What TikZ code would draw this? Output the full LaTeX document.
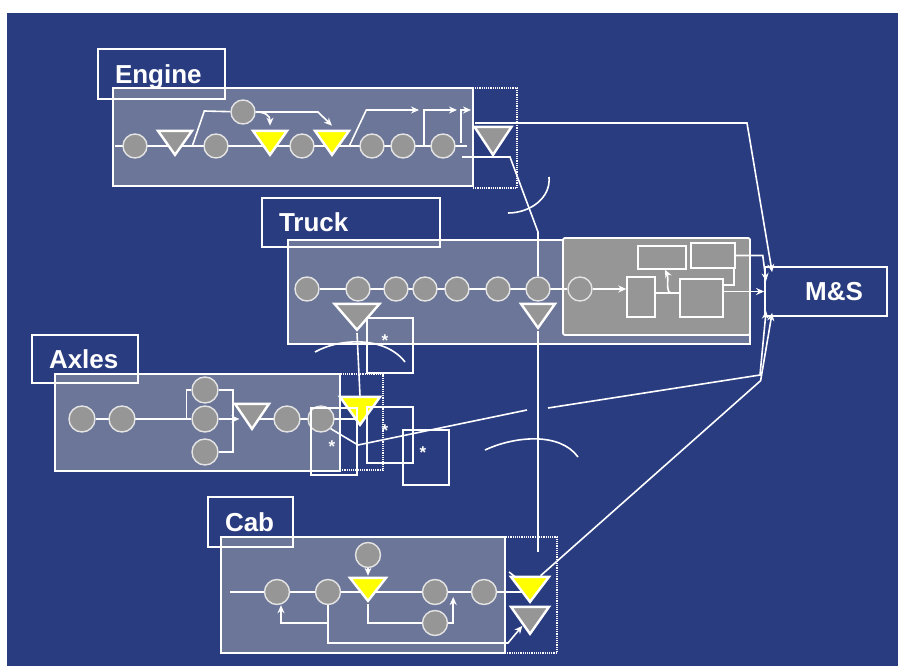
\documentclass[tikz,border=0pt]{standalone}
\usepackage{fontspec}
\setmainfont{Liberation Sans}
\usetikzlibrary{arrows.meta,positioning,shapes.geometric}
\pgfdeclarelayer{bgA}
\pgfdeclarelayer{bgB}
\pgfdeclarelayer{bgC}
\pgfsetlayers{bgC,bgB,bgA,main}
\definecolor{sBlue} {HTML}{293C80}
\definecolor{sPanel}{HTML}{6C7699}
\definecolor{sGray} {HTML}{969696}
\definecolor{sYel}  {HTML}{FFFF00}
\definecolor{sRim}  {HTML}{E4E4E4}

\begin{document}
\begin{tikzpicture}[
  x=1pt, y=-1pt,
  pnl/.style={draw=white, fill=sPanel, line width=1.8pt, inner sep=0pt},
  tag/.style={draw=white, line width=1.8pt, text=white, inner ysep=0pt,
              inner xsep=17pt, align=left, text depth=0pt,
              font=\fontsize{26}{30}\selectfont\bfseries},
  dot/.style={circle, draw=sRim, fill=sGray, line width=1.4pt,
              minimum size=24pt, inner sep=0pt},
  tri/.style={isosceles triangle, isosceles triangle stretches,
              shape border rotate=270, draw=white, fill=sGray,
              line width=2.4pt, inner sep=0pt, anchor=apex,
              minimum width=34pt, minimum height=24pt},
  ytri/.style={tri, fill=sYel},
  box/.style={draw=white, fill=sGray, line width=1.5pt, inner sep=0pt},
  dbox/.style={draw=white, densely dotted, line width=1.2pt, inner sep=0pt},
  sbox/.style={draw=white, line width=1.6pt, inner sep=0pt},
  astr/.style={text=white, font=\fontsize{17}{17}\selectfont\bfseries, inner sep=0pt},
  ln/.style={draw=white, line width=1.6pt},
  ar/.style={ln, -{Stealth[length=8pt, width=7pt]}},
]
\useasboundingbox (0,0) rectangle (898,666);
\begin{pgfonlayer}{bgC}
  \fill[white] (0,0) rectangle (898,666);
  \fill[sBlue] (7,13) rectangle (898,666);
\end{pgfonlayer}

% ============================================================ ENGINE
\begin{pgfonlayer}{bgB}
  \node[pnl, minimum width=360pt, minimum height=98pt] at (293,137) (engP) {};
\end{pgfonlayer}
\node[tag, text width=93pt, minimum height=50pt] at (161.5,74) (engT) {Engine};
\node[dbox, minimum width=44pt, minimum height=100pt] at (495,138) (engD) {};

\coordinate (eIn)  at (115,146);
\coordinate (eOut) at (467,146);
\node[dot] at (135,146) (e1) {};
\node[tri] at (175,158) (e2) {};
\node[dot] at (216,146) (e3) {};
\node[dot] at (243,112) (eTop) {};
\node[ytri] at (270,158) (e4) {};
\node[dot] at (302,146) (e5) {};
\node[ytri] at (332,158) (e6) {};
\node[dot] at (372,146) (e7) {};
\node[dot] at (403,146) (e8) {};
\node[dot] at (443,146) (e9) {};
\coordinate (eA1) at (419,110);
\coordinate (eA2) at (457,110);
\coordinate (eA3) at (471,110);
\node[tri, minimum width=37pt, minimum height=28pt] at (493,158) (eTri) {};
\coordinate (eO) at (475,123);
\coordinate (eX) at (462,157);

% ============================================================ TRUCK
\begin{pgfonlayer}{bgB}
  \node[pnl, minimum width=462pt, minimum height=104pt] at (519,292) (trkP) {};
  \node[box, line width=1.8pt, rounded corners=2pt, minimum width=187pt,
        minimum height=97pt] at (656.5,286.5) (trkG) {};
\end{pgfonlayer}
\node[tag, text width=144pt, minimum height=49pt] at (351,222.5) (trkT) {Truck};

\node[dot] at (307,289) (t1) {};
\node[dot] at (358,289) (t2) {};
\node[dot] at (396,289) (t3) {};
\node[dot] at (425,289) (t4) {};
\node[dot] at (457,289) (t5) {};
\node[dot] at (498,289) (t6) {};
\node[dot] at (538,289) (t7) {};
\node[dot] at (580,289) (t8) {};
\node[box, minimum width=28pt, minimum height=40pt] at (641,297) (bA) {};
\node[box, minimum width=43pt, minimum height=38pt] at (701.5,298) (bB) {};
\node[box, minimum width=48pt, minimum height=23pt] at (662,257.5) (bC) {};
\node[box, minimum width=44pt, minimum height=25pt] at (713,255.5) (bD) {};
\node[tri, minimum width=45pt, minimum height=26pt] at (357,333) (tT1) {};
\node[tri, minimum width=34pt, minimum height=24pt] at (538,331) (tT2) {};

% ============================================================ AXLES
\begin{pgfonlayer}{bgB}
  \node[pnl, minimum width=285pt, minimum height=97pt] at (197.5,422.5) (axP) {};
\end{pgfonlayer}
\node[tag, text width=72pt, minimum height=48pt] at (85,359) (axT) {Axles};
\node[dbox, minimum width=43pt, minimum height=96pt] at (361.5,422) (axD) {};

\node[dot, minimum size=26pt] at (82,419) (a1) {};
\node[dot, minimum size=26pt] at (122,419) (a2) {};
\node[dot, minimum size=26pt] at (205,390) (aU) {};
\node[dot, minimum size=26pt] at (205,419) (aM) {};
\node[dot, minimum size=26pt] at (205,452) (aL) {};
\node[tri, minimum height=25pt] at (252,432) (aTri) {};
\node[dot, minimum size=26pt] at (287,419) (a3) {};
\node[dot, minimum size=26pt] at (321,419) (a4) {};
\node[ytri, minimum width=40pt, minimum height=28pt] at (360,428) (aY) {};
\coordinate (aJ)  at (358,445);
\coordinate (aG1) at (527,410);
\coordinate (aG2) at (548,408);

% ---- star boxes
\node[sbox, minimum width=46pt, minimum height=55pt] at (390,345.5) (s1) {};
\node[sbox, minimum width=46pt, minimum height=67pt] at (334,441.5) (s2) {};
\node[sbox, minimum width=46pt, minimum height=56pt] at (390,435) (s3) {};
\node[sbox, minimum width=46pt, minimum height=55pt] at (426,457.5) (s4) {};
\node[astr] at (385,341) (st1) {*};
\node[astr] at (332,447) (st2) {*};
\node[astr] at (385,431) (st3) {*};
\node[astr] at (423,453) (st4) {*};

% ============================================================ CAB
\begin{pgfonlayer}{bgB}
  \node[pnl, minimum width=284pt, minimum height=116pt] at (363,595) (cabP) {};
\end{pgfonlayer}
\node[tag, text width=51pt, minimum height=50pt] at (250.5,522) (cabT) {Cab};
\node[dbox, minimum width=52pt, minimum height=116pt] at (531,595) (cabD) {};

\coordinate (cIn) at (230,592);
\node[dot, minimum size=25pt] at (277,592) (c1) {};
\node[dot, minimum size=25pt] at (328,592) (c2) {};
\node[ytri, minimum width=36pt, minimum height=23pt] at (368,604) (cY) {};
\node[dot, minimum size=25pt] at (368,555) (cTop) {};
\node[dot, minimum size=25pt] at (435,592) (c3) {};
\node[dot, minimum size=25pt] at (484,592) (c4) {};
\node[dot, minimum size=25pt] at (435,623) (cB) {};
\node[ytri, minimum width=38pt, minimum height=25pt] at (530,605) (cY2) {};
\node[tri, minimum width=38pt, minimum height=27pt] at (530,637) (cG) {};
\coordinate (cJ)   at (508,643);
\coordinate (cabIn) at (538,552);
\coordinate (cN1) at (509,572);
\coordinate (cN2) at (523,583);

% ============================================================ M&S
\node[tag, inner xsep=24pt, text width=74pt, align=right, minimum height=49pt]
  at (826,291.5) (ms) {M\&S};

% ============================================================ connectors
\begin{pgfonlayer}{bgA}
% engine
\draw[ln] (eIn) -- (eOut);
\draw[ln] (e3.west) ++(-11,0) -- ++(12,-35) -- (eTop);
\draw[ar] (eTop) -- ++(75,0) -- ([yshift=4pt]e6.lower side);
\draw[ar] (eTop.east) .. controls +(10,0) and +(0,-10) .. ([yshift=4pt]e4.lower side);
\draw[ar] (e7.west) ++(-10,0) -- ++(17,-36) -- (eA1);
\draw[ar] (e8.east) ++(8,0) |- (eA2);
\draw[ar] (e9.east) ++(5,-3) |- (eA3);
\draw[ln] (eX) -- ++(48,0) -- (t7 |- 0,232) -- (t7);
\draw[ar] (eO) -- ++(272,0) -- ([xshift=8pt,yshift=-6pt]ms.north west);
% truck
\draw[ln] (t1) -- (t8);
\draw[ar] (t8) -- (bA.west |- t8);
\draw[ln] (bA.east) ++(-7,-4) -- +(32,0);
\draw[ar] (bB.west) ++(-8,-5) .. controls +(-6,0) and +(4,8) .. ([xshift=3pt]bC.south);
\draw[ln] (bB.east) ++(0,-13) -- ++(10,0) -- ++(0,-17);
\draw[ar] (bB.east |- ms.west) -- (ms.west);
\draw[ar] (bD.east) -- ++(27,0) -- ([xshift=2pt,yshift=-15pt]ms.north west);
\draw[ln] (tT1.apex) -- (aY.lower side);
\draw[ln] (tT2.apex) -- (cabIn);
% axles
\draw[ln] (a1) -- (aM);
\draw[ln] (aU.west) -- ++(-5,0) -- ++(0,29);
\draw[ln] (aU.east) -- ++(14,0) |- (aL.east);
\draw[ar] (aM) -- (aTri.west |- aM);
\draw[ln] (aTri.apex |- aM) -- (aY.apex |- aM);
\draw[ln] (a4.south east) -- (aJ) -- (aG1);
\draw[ar] (aG2) -- ++(212,-33) -- ([xshift=2pt,yshift=6pt]ms.south west);
% cab
\draw[ln] (cIn) -- (cY2.apex |- cIn);
\draw[ar] (cTop) -- ([yshift=1pt]cY.lower side);
\draw[ar] (c2.south) -- ++(0,18) -| ([xshift=4pt]c1.south);
\draw[ar] (c2.south) |- (cJ) -- (cG);
\draw[ln] (cY.apex) |- (cB);
\draw[ar] (cB.east) -- ++(5,0) -- ++(0,-26);
\draw[ln] (cN1) -- (cN2);
\draw[ar] (cY2.north east) -- ++(220,-195) -- ([xshift=8pt,yshift=4pt]ms.south west);
% crossing arcs
\draw[ln] (315,352) .. controls (340,338) and (385,336) .. (405,362);
\draw[ln] (485,450) .. controls (515,436) and (560,432) .. (578,457);
\draw[ln] (508,213) .. controls (530,213) and (551,198) .. (549,177);
\end{pgfonlayer}

\end{tikzpicture}
\end{document}
